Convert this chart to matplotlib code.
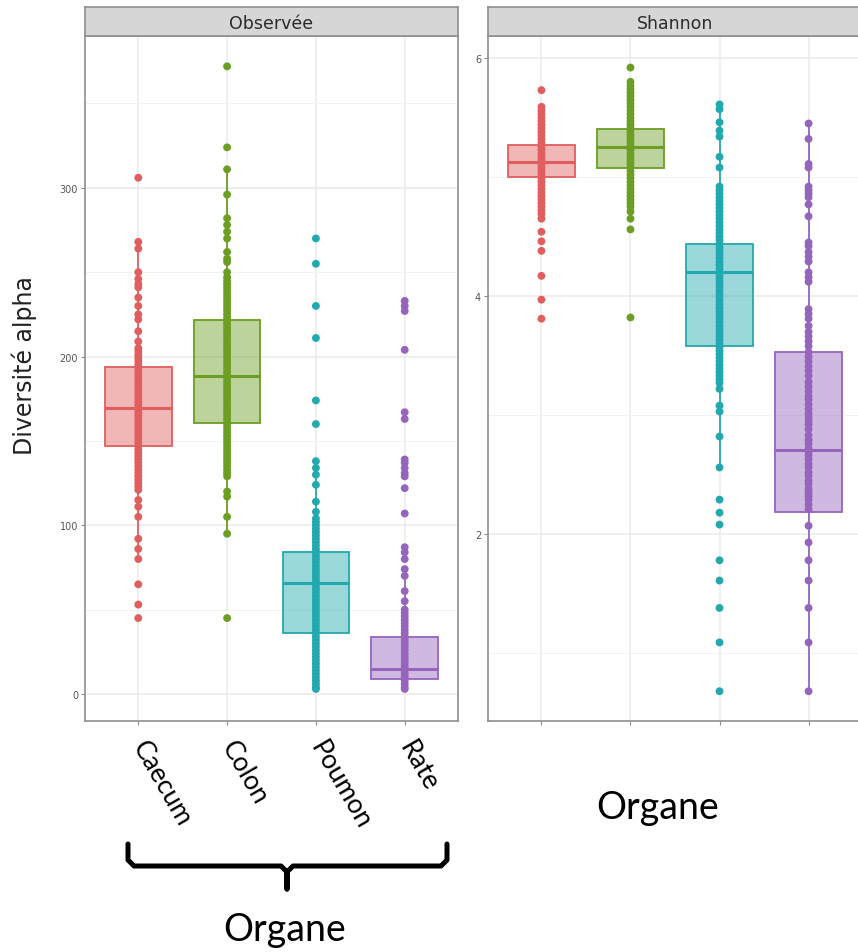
import matplotlib
matplotlib.use("Agg")
import numpy as np
import matplotlib.pyplot as plt
from matplotlib.lines import Line2D

# groups and colours
organes = ["Caecum", "Colon", "Poumon", "Rate"]
colors = ["#E15E5E", "#6B9E22", "#22A9AE", "#9565BE"]

# observed richness: box stats (whislo, q1, med, q3, whishi)
obs_stats = [
    (80, 147, 169.5, 194, 264),
    (95, 160.5, 188.5, 221.7, 311),
    (3, 36, 66, 84, 138),
    (3, 9, 15, 34, 70),
]
# Shannon index: box stats
sha_stats = [
    (4.65, 5.00, 5.13, 5.27, 5.59),
    (4.65, 5.08, 5.25, 5.40, 5.80),
    (2.56, 3.58, 4.20, 4.44, 5.61),
    (0.68, 2.19, 2.71, 3.53, 5.45),
]

# sample values, observed richness
caecum_obs = [306, 268, 264, 250, 246, 243, 241, 235, 230, 225, 222, 215, 209,
              205, 203, 201, 199, 197, 195, 193, 191, 189, 187, 185, 183, 181,
              179, 177, 175, 173, 171, 169, 167, 165, 163, 161, 159, 157, 155,
              153, 151, 149, 147, 145, 143, 141, 139, 137, 135, 133, 131, 129,
              127, 125, 123, 121, 115, 111, 105, 92, 86, 80, 65, 53, 45]
colon_obs = [372, 324, 311, 296, 282, 278, 274, 270, 262, 258, 256, 250, 247,
             245, 243, 241, 239, 237, 235, 233, 231, 229, 227, 225, 223, 221,
             219, 217, 215, 213, 211, 209, 207, 205, 203, 201, 199, 197, 195,
             193, 191, 189, 187, 185, 183, 181, 179, 177, 175, 173, 171, 169,
             167, 165, 163, 161, 159, 157, 155, 153, 151, 149, 147, 145, 143,
             141, 139, 137, 135, 133, 131, 129, 120, 117, 105, 95, 45]
poumon_obs = [270, 255, 230, 211, 174, 160, 138, 134, 130, 124, 114, 108, 104,
              102, 100, 98, 96, 94, 92, 90, 88, 86, 84, 82, 80, 78, 76, 74, 72,
              70, 68, 66, 64, 62, 60, 58, 56, 54, 52, 50, 48, 46, 44, 42, 40,
              38, 36, 34, 32, 30, 28, 26, 24, 22, 20, 18, 16, 14, 12, 10, 8, 6,
              4, 3]
rate_obs = [233, 230, 227, 204, 167, 163, 139, 137, 134, 131, 129, 122, 107,
            87, 84, 80, 74, 70, 61, 55, 50, 48, 46, 44, 42, 40, 38, 36, 34, 32,
            30, 28, 26, 24, 22, 20, 18, 16, 14, 12, 10, 8, 6, 4, 3]

# sample values, Shannon index
caecum_sha = [5.73, 5.59, 5.56, 5.53, 5.50, 5.47, 5.44, 5.41, 5.38, 5.35, 5.32,
              5.29, 5.26, 5.23, 5.20, 5.17, 5.14, 5.11, 5.08, 5.05, 5.02, 4.99,
              4.96, 4.93, 4.90, 4.87, 4.84, 4.81, 4.78, 4.75, 4.72, 4.69, 4.65,
              4.54, 4.46, 4.38, 4.17, 3.97, 3.81]
colon_sha = [5.92, 5.80, 5.77, 5.74, 5.71, 5.68, 5.65, 5.62, 5.59, 5.56, 5.53,
             5.50, 5.47, 5.44, 5.41, 5.38, 5.35, 5.32, 5.29, 5.26, 5.23, 5.20,
             5.17, 5.14, 5.11, 5.08, 5.05, 5.02, 4.99, 4.96, 4.93, 4.90, 4.87,
             4.84, 4.81, 4.78, 4.75, 4.71, 4.65, 4.56, 3.82]
poumon_sha = [5.61, 5.57, 5.46, 5.39, 5.34, 5.17, 5.08, 4.92, 4.89, 4.86, 4.83,
              4.80, 4.77, 4.74, 4.71, 4.68, 4.65, 4.62, 4.59, 4.56, 4.53, 4.50,
              4.47, 4.44, 4.41, 4.38, 4.35, 4.32, 4.29, 4.26, 4.23, 4.20, 4.17,
              4.14, 4.11, 4.08, 4.05, 4.02, 3.99, 3.96, 3.93, 3.90, 3.87, 3.84,
              3.81, 3.78, 3.75, 3.72, 3.69, 3.66, 3.63, 3.60, 3.57, 3.54, 3.51,
              3.48, 3.45, 3.42, 3.39, 3.36, 3.33, 3.30, 3.27, 3.22, 3.08, 3.03,
              2.82, 2.56, 2.29, 2.18, 2.08, 1.78, 1.61, 1.38, 1.09, 0.68]
rate_sha = [5.45, 5.32, 5.11, 5.08, 4.92, 4.89, 4.86, 4.83, 4.77, 4.67, 4.45,
            4.42, 4.37, 4.33, 4.29, 4.20, 4.16, 4.12, 3.89, 3.85, 3.81, 3.75,
            3.70, 3.66, 3.62, 3.58, 3.53, 3.49, 3.45, 3.41, 3.37, 3.33, 3.28,
            3.24, 3.20, 3.16, 3.13, 3.09, 3.05, 3.01, 2.98, 2.95, 2.92, 2.88,
            2.83, 2.79, 2.76, 2.72, 2.69, 2.66, 2.63, 2.59, 2.56, 2.52, 2.49,
            2.45, 2.42, 2.38, 2.35, 2.32, 2.29, 2.25, 2.21, 2.07, 1.93, 1.78,
            1.61, 1.38, 1.09, 0.68]

obs_points = [caecum_obs, colon_obs, poumon_obs, rate_obs]
sha_points = [caecum_sha, colon_sha, poumon_sha, rate_sha]

W, H = 858, 953
fig = plt.figure(figsize=(W / 100, H / 100), dpi=100)
fig.patch.set_facecolor("white")


def px_axes(x0, y0, x1, y1):
    return fig.add_axes([x0 / W, 1 - y1 / H, (x1 - x0) / W, (y1 - y0) / H])


def facet(ax, stats, points, ylim, major, minor, title, strip_box):
    ax.set_xlim(0.4, 4.6)
    ax.set_ylim(*ylim)
    ax.set_yticks(major)
    ax.set_yticks(minor, minor=True)
    ax.set_xticks(range(1, 5))
    ax.grid(True, which="major", color="#EBEBEB", lw=1.1, zorder=0)
    ax.grid(True, which="minor", axis="y", color="#F2F2F2", lw=0.7, zorder=0)
    ax.set_axisbelow(True)
    for s in ax.spines.values():
        s.set_color("#8F8F8F")
        s.set_linewidth(1.2)
    ax.tick_params(which="major", length=3, color="#8F8F8F", labelsize=7,
                   labelcolor="#555555", pad=2)
    ax.tick_params(which="minor", length=0)

    bstats = []
    for st in stats:
        lo, q1, med, q3, hi = st
        bstats.append(dict(whislo=lo, q1=q1, med=med, q3=q3, whishi=hi,
                           fliers=[]))
    bp = ax.bxp(bstats, positions=range(1, 5), widths=0.75, patch_artist=True,
                showcaps=False, manage_ticks=False)
    for i, c in enumerate(colors):
        bp["boxes"][i].set_facecolor(matplotlib.colors.to_rgba(c, 0.45))
        bp["boxes"][i].set_edgecolor(c)
        bp["boxes"][i].set_linewidth(1.3)
        bp["medians"][i].set_color(c)
        bp["medians"][i].set_linewidth(2.2)
        for w in bp["whiskers"][2 * i:2 * i + 2]:
            w.set_color(c)
            w.set_linewidth(1.3)
    for i, (vals, c) in enumerate(zip(points, colors)):
        ax.scatter(np.full(len(vals), i + 1), vals, s=32, color=c,
                   edgecolors="none", zorder=3)

    # facet strip
    sax = px_axes(*strip_box)
    sax.set_facecolor("#D6D6D6")
    sax.set_xticks([])
    sax.set_yticks([])
    for s in sax.spines.values():
        s.set_color("#8F8F8F")
        s.set_linewidth(1.2)
    sax.text(0.5, 0.45, title, ha="center", va="center", fontsize=12.5,
             color="#2B2B2B", transform=sax.transAxes)


ax1 = px_axes(85, 37, 458, 722)
facet(ax1, obs_stats, obs_points, (-16, 390), [0, 100, 200, 300],
      [50, 150, 250, 350], "Observée", (85, 8, 458, 37))
ax1.set_xticklabels([])
ax1.set_ylabel("Diversité alpha", fontsize=17, color="#222222")
ax1.yaxis.set_label_coords(-0.13, 0.52)

ax2 = px_axes(488, 37, 862, 722)
facet(ax2, sha_stats, sha_points, (0.43, 6.185), [2, 4, 6], [1, 3, 5],
      "Shannon", (488, 8, 862, 37))
ax2.set_xticklabels([])

# slanted category labels under the left panel
for i, name in enumerate(organes):
    ax1.annotate(name, xy=(i + 1, 0), xycoords=("data", "axes fraction"),
                 xytext=(8, -11), textcoords="offset points", rotation=-60,
                 rotation_mode="anchor", ha="left", va="top", fontsize=19,
                 family="Lato", color="black")

# brace grouping the categories
def fx(x):
    return x / W


def fy(y):
    return 1 - y / H


brace_x = [128, 128, 134, 281, 287, 287, 287, 293, 441, 447, 447]
brace_y = [845, 861, 867, 867, 873, 890, 873, 867, 867, 861, 845]
fig.add_artist(Line2D([fx(v) for v in brace_x], [fy(v) for v in brace_y],
                      color="black", lw=3.6, solid_joinstyle="round",
                      solid_capstyle="round"))

fig.text(fx(285), fy(930), "Organe", ha="center", va="center", fontsize=27,
         family="Lato", color="black")
fig.text(fx(658), fy(808), "Organe", ha="center", va="center", fontsize=27,
         family="Lato", color="black")

fig.savefig("out.png", dpi=100, facecolor="white")
